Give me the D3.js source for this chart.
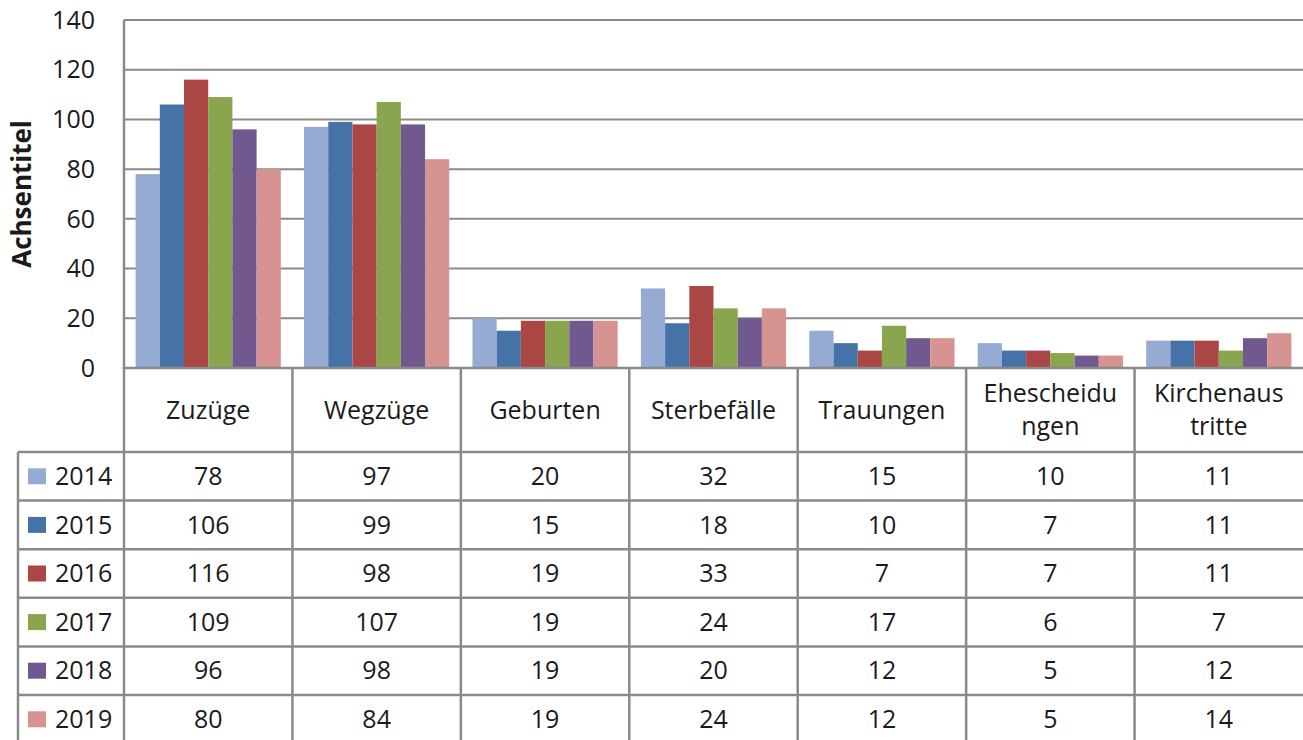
<!DOCTYPE html>
<html>
<head>
<meta charset="utf-8">
<script src="https://cdn.jsdelivr.net/npm/d3@7"></script>
<style>
  body { margin: 0; background: #fff; }
  svg text { font-family: "Open Sans", sans-serif; fill: #1a1a1a; }
</style>
</head>
<body>
<script>
const width = 1303,
      height = 740;

// categories, header lines as printed in the data table
const categories = ["Zuzüge", "Wegzüge", "Geburten", "Sterbefälle", "Trauungen", "Ehescheidungen", "Kirchenaustritte"];
const categoryLines = [["Zuzüge"], ["Wegzüge"], ["Geburten"], ["Sterbefälle"], ["Trauungen"], ["Ehescheidu", "ngen"], ["Kirchenaus", "tritte"]];
const years = ["2014", "2015", "2016", "2017", "2018", "2019"];
const colors = ["#95abd3", "#4573a7", "#aa4644", "#89a54e", "#71588f", "#d69391"];

const v2014 = [78, 97, 20, 32, 15, 10, 11];
const v2015 = [106, 99, 15, 18, 10, 7, 11];
const v2016 = [116, 98, 19, 33, 7, 7, 11];
const v2017 = [109, 107, 19, 24, 17, 6, 7];
const v2018 = [96, 98, 19, 20, 12, 5, 12];
const v2019 = [80, 84, 19, 24, 12, 5, 14];
const series = [v2014, v2015, v2016, v2017, v2018, v2019];

const yTicks = [0, 20, 40, 60, 80, 100, 120, 140];

const plotLeft = 124, plotRight = 1303, plotTop = 20, plotBottom = 368;
const headerBottom = 452, tableLeft = 18, rowH = 48.6;
const lineColor = "#8a8a8a";
const fontSize = "25px";

const svg = d3.select("body")
    .append("svg")
    .attr("width", width)
    .attr("height", height);

const x = d3.scaleBand()
    .domain(categories)
    .range([plotLeft, plotRight]);

const x1 = d3.scaleBand()
    .domain(years)
    .range([0, x.bandwidth()])
    .paddingOuter(0.48);

const y = d3.scaleLinear()
    .domain([0, 140])
    .range([plotBottom, plotTop]);

// gridlines
svg.append("g")
    .selectAll("line")
    .data(yTicks.filter(d => d > 0))
    .enter().append("line")
    .attr("x1", plotLeft)
    .attr("x2", plotRight)
    .attr("y1", d => y(d))
    .attr("y2", d => y(d))
    .attr("stroke", lineColor)
    .attr("stroke-width", 2);

// y tick labels
svg.append("g")
    .selectAll("text")
    .data(yTicks)
    .enter().append("text")
    .attr("x", 95)
    .attr("y", d => y(d))
    .attr("dy", "0.35em")
    .attr("text-anchor", "end")
    .style("font-size", fontSize)
    .text(d => d);

// axis title
svg.append("text")
    .attr("transform", "translate(22,194) rotate(-90)")
    .attr("text-anchor", "middle")
    .attr("dy", "0.35em")
    .style("font-size", "26px")
    .style("font-weight", "bold")
    .text("Achsentitel");

// bars
series.forEach((vals, i) => {
  svg.append("g")
      .selectAll("rect")
      .data(vals)
      .enter().append("rect")
      .attr("x", (d, j) => x(categories[j]) + x1(years[i]))
      .attr("width", x1.bandwidth())
      .attr("y", d => y(d))
      .attr("height", d => y(0) - y(d))
      .attr("fill", colors[i]);
});

// table grid
const table = svg.append("g")
    .attr("stroke", lineColor)
    .attr("stroke-width", 2.5);

table.append("line")
    .attr("x1", plotLeft).attr("x2", plotRight)
    .attr("y1", plotBottom).attr("y2", plotBottom);

table.append("line")
    .attr("x1", plotLeft).attr("x2", plotLeft)
    .attr("y1", plotTop).attr("y2", height);

table.selectAll("line.col")
    .data(categories.slice(1))
    .enter().append("line")
    .attr("class", "col")
    .attr("x1", d => x(d)).attr("x2", d => x(d))
    .attr("y1", plotBottom).attr("y2", height);

table.append("line")
    .attr("x1", tableLeft).attr("x2", tableLeft)
    .attr("y1", headerBottom).attr("y2", height);

table.selectAll("line.row")
    .data(years)
    .enter().append("line")
    .attr("class", "row")
    .attr("x1", tableLeft).attr("x2", plotRight)
    .attr("y1", (d, i) => headerBottom + i * rowH)
    .attr("y2", (d, i) => headerBottom + i * rowH);

// header labels
categoryLines.forEach((lines, j) => {
  const cx = x(categories[j]) + x.bandwidth() / 2;
  const cy = (plotBottom + headerBottom) / 2;
  lines.forEach((t, k) => {
    svg.append("text")
        .attr("x", cx)
        .attr("y", cy + (k - (lines.length - 1) / 2) * 33)
        .attr("dy", "0.35em")
        .attr("text-anchor", "middle")
        .style("font-size", fontSize)
        .text(t);
  });
});

// legend keys and values
years.forEach((yr, i) => {
  const cy = headerBottom + i * rowH + rowH / 2;
  svg.append("rect")
      .attr("x", 28)
      .attr("y", cy - 8)
      .attr("width", 18)
      .attr("height", 16)
      .attr("fill", colors[i]);
  svg.append("text")
      .attr("x", 55)
      .attr("y", cy)
      .attr("dy", "0.35em")
      .style("font-size", fontSize)
      .text(yr);
  svg.append("g")
      .selectAll("text")
      .data(series[i])
      .enter().append("text")
      .attr("x", (d, j) => x(categories[j]) + x.bandwidth() / 2)
      .attr("y", cy)
      .attr("dy", "0.35em")
      .attr("text-anchor", "middle")
      .style("font-size", fontSize)
      .text(d => d);
});
</script>
</body>
</html>
